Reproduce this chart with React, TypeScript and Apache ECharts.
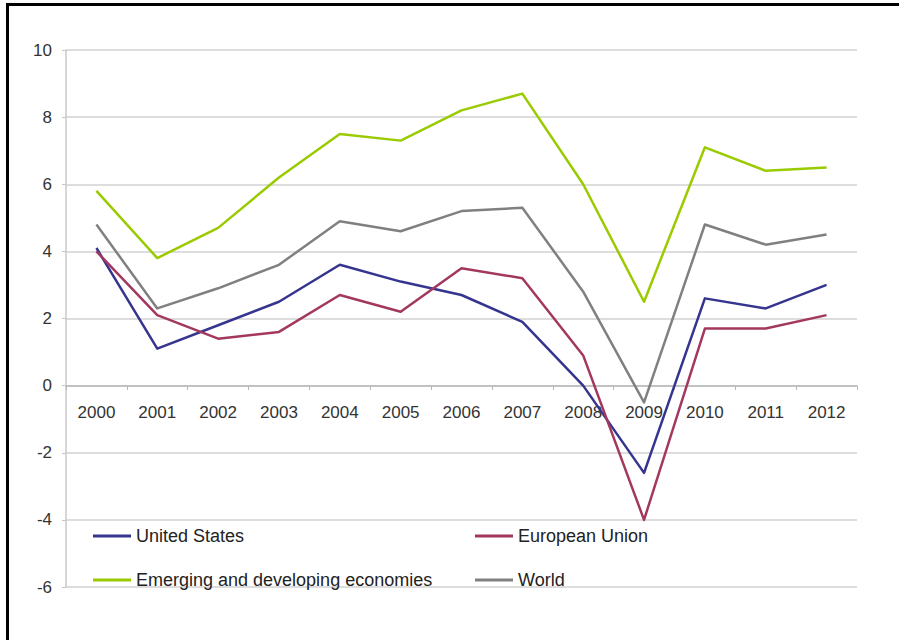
import React, { useEffect, useRef } from "react";
import * as echarts from "echarts";

const years = ["2000", "2001", "2002", "2003", "2004", "2005", "2006", "2007", "2008", "2009", "2010", "2011", "2012"];
const unitedStates = [4.1, 1.1, 1.8, 2.5, 3.6, 3.1, 2.7, 1.9, 0.0, -2.6, 2.6, 2.3, 3.0];
const europeanUnion = [4.0, 2.1, 1.4, 1.6, 2.7, 2.2, 3.5, 3.2, 0.9, -4.0, 1.7, 1.7, 2.1];
const emerging = [5.8, 3.8, 4.7, 6.2, 7.5, 7.3, 8.2, 8.7, 6.0, 2.5, 7.1, 6.4, 6.5];
const world = [4.8, 2.3, 2.9, 3.6, 4.9, 4.6, 5.2, 5.3, 2.8, -0.5, 4.8, 4.2, 4.5];

const seriesNames = ["United States", "European Union", "Emerging and developing economies", "World"];
const seriesColors = ["#35358f", "#a3385f", "#9acb00", "#808080"];

export default function App() {
  const ref = useRef<HTMLDivElement>(null);
  useEffect(() => {
    if (!ref.current) return;
    const chart = echarts.init(ref.current, null, { renderer: "svg" });
    const dataSets = [unitedStates, europeanUnion, emerging, world];
    const legendPos = [
      { left: 93, top: 527 },
      { left: 475, top: 527 },
      { left: 93, top: 571 },
      { left: 475, top: 571 },
    ];
    const font = "Liberation Sans, Arial, sans-serif";
    chart.setOption({
      animation: false,
      backgroundColor: "#ffffff",
      textStyle: { fontFamily: font },
      grid: { left: 66, right: 42, top: 50, bottom: 53, containLabel: false },
      legend: seriesNames.map((n, i) => ({
        data: [n],
        left: legendPos[i].left,
        top: legendPos[i].top,
        padding: 0,
        itemWidth: 38,
        itemHeight: 3,
        icon: "rect",
        textStyle: { fontSize: 18, color: "#222222", fontFamily: font },
      })),
      xAxis: {
        type: "category",
        data: years,
        boundaryGap: true,
        offset: -201,
        axisLine: { onZero: false, lineStyle: { color: "#b8b8b8", width: 1.5 } },
        axisTick: { show: true, length: 4, inside: false, lineStyle: { color: "#b8b8b8" } },
        axisLabel: { margin: 18, fontSize: 17, color: "#333333", fontFamily: font },
        splitLine: { show: false },
      },
      yAxis: {
        type: "value",
        min: -6,
        max: 10,
        interval: 2,
        axisLine: { show: true, lineStyle: { color: "#c8c8c8", width: 1.5 } },
        axisTick: { show: true, length: 4, lineStyle: { color: "#c8c8c8" } },
        axisLabel: { margin: 14, fontSize: 17, color: "#333333", fontFamily: font },
        splitLine: { show: true, lineStyle: { color: "#d2d2d2", width: 1.5 } },
      },
      series: seriesNames.map((n, i) => ({
        name: n,
        type: "line",
        data: dataSets[i],
        symbol: "none",
        color: seriesColors[i],
        lineStyle: { width: 2.5, color: seriesColors[i], join: "round" },
        z: i === 2 ? 3 : 2,
      })),
      graphic: [
        { type: "rect", shape: { x: 6, y: 3, width: 3, height: 640 }, style: { fill: "#000000" }, z: 100 },
        { type: "rect", shape: { x: 6, y: 3, width: 900, height: 3 }, style: { fill: "#000000" }, z: 100 },
      ],
    });
    return () => chart.dispose();
  }, []);
  return (
    <div
      ref={ref}
      style={{ position: "absolute", left: 0, top: 0, width: 899, height: 640 }}
    />
  );
}
